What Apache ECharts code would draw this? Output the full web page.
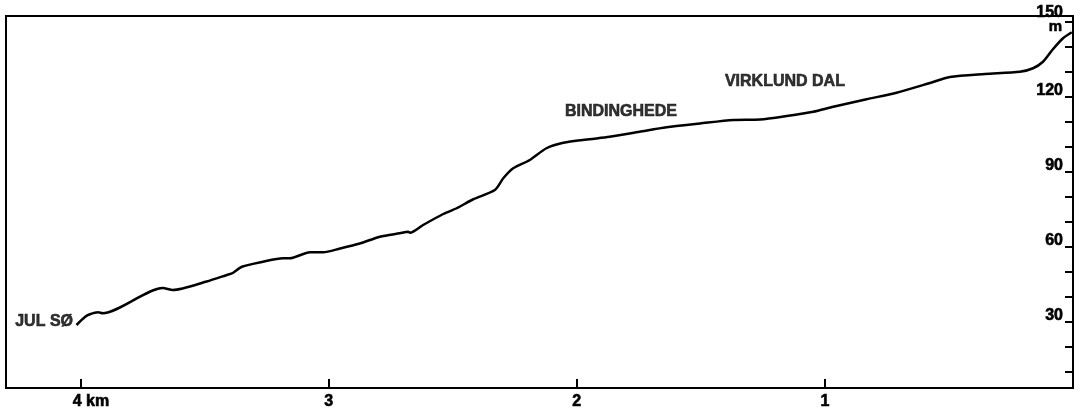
<!DOCTYPE html>
<html>
<head>
<meta charset="utf-8">
<script src="https://cdn.jsdelivr.net/npm/echarts@6/dist/echarts.min.js"></script>
<style>
  html, body { margin: 0; padding: 0; background: #fff; }
  #chart { width: 1084px; height: 412px; }
</style>
</head>
<body>
<div id="chart"></div>
<script>
// Distance from Virklund Dal end (km) and elevation (m), read from the profile
const distanceKm = [4.016, 3.982, 3.962, 3.929, 3.910, 3.668, 3.628, 3.491, 3.410, 3.386, 3.349, 3.265, 3.184, 3.156, 3.075, 3.022, 2.954, 2.874, 2.793, 2.713, 2.679, 2.672, 2.619, 2.538, 2.484, 2.417, 2.330, 2.296, 2.256, 2.189, 2.122, 2.054, 1.948, 1.868, 1.747, 1.638, 1.503, 1.369, 1.261, 1.154, 1.047, 0.966, 0.832, 0.711, 0.576, 0.496, 0.355, 0.214, 0.161, 0.121, 0.081, 0.040, 0.005];
const elevationM = [28.8, 32.0, 33.1, 33.9, 33.5, 43.6, 42.8, 46.2, 48.8, 49.6, 52.1, 54.1, 55.5, 55.5, 57.9, 57.9, 59.4, 61.4, 64.1, 65.5, 66.1, 65.7, 68.8, 73.2, 75.5, 79.1, 82.8, 87.5, 91.5, 94.8, 99.5, 101.7, 103.1, 104.1, 106.1, 107.9, 109.4, 110.8, 111.0, 112.4, 114.1, 116.1, 119.1, 121.7, 125.6, 128.0, 129.2, 130.1, 131.5, 134.1, 139.1, 143.5, 145.9];

// Place names along the profile
const placeNames = ['JUL SØ', 'BINDINGHEDE', 'VIRKLUND DAL'];
const placeKm = [4.03, 1.822, 1.161];
const placeElev = [30.2, 114.0, 126.0];

// Axis ticks / labels
const xTickValues = [1, 2, 3, 4];
const yTickValues = [10, 20, 30, 40, 50, 60, 70, 80, 90, 100, 110, 120, 130, 140, 150];
const yTickLabels = [30, 60, 90, 120, 150];
const yRange = [3.6, 152.4];

const FONT = "'Liberation Sans', Arial, sans-serif";
const INK = '#000';
const TXT = { color: INK, fontFamily: FONT, fontWeight: 'bold', fontSize: 16, textBorderColor: INK, textBorderWidth: 0.6 };

const chart = echarts.init(document.getElementById('chart'));

const profile = distanceKm.map((d, i) => [d, elevationM[i]]);
const places = placeNames.map((n, i) => {
  const item = { name: n, value: [placeKm[i], placeElev[i]] };
  if (i === 0) item.label = { position: 'left', distance: 0 };
  return item;
});

chart.setOption({
  animation: false,
  backgroundColor: '#fff',
  grid: {
    left: 6, right: 11, top: 16, bottom: 24,
    containLabel: false,
    outerBoundsMode: 'none',
    show: true, borderColor: INK, borderWidth: 2, backgroundColor: 'transparent'
  },
  xAxis: {
    type: 'value',
    inverse: true,
    min: 0, max: 4.3, interval: 1,
    axisLine: { show: true, lineStyle: { color: INK, width: 2 } },
    axisTick: { show: true, inside: true, length: 9, customValues: xTickValues, lineStyle: { color: INK, width: 2 } },
    axisLabel: Object.assign({
      show: true, margin: 6, customValues: xTickValues,
      formatter: v => v === 4 ? '{k|4 km}' : String(v),
      rich: { k: Object.assign({}, TXT, { padding: [0, 0, 0, 21] }) }
    }, TXT),
    splitLine: { show: false }
  },
  yAxis: {
    type: 'value',
    position: 'right',
    min: yRange[0], max: yRange[1],
    name: 'm',
    nameLocation: 'end',
    nameGap: -11,
    nameMoveOverlap: false,
    nameTextStyle: Object.assign({}, TXT, { fontSize: 15, align: 'right', verticalAlign: 'middle', padding: [0, 11, 0, 0] }),
    axisLine: { show: true, lineStyle: { color: INK, width: 2 } },
    axisTick: { show: true, inside: true, length: 8, customValues: yTickValues, lineStyle: { color: INK, width: 2 } },
    axisLabel: Object.assign({
      show: true, inside: true, margin: 10, customValues: yTickLabels,
      verticalAlign: 'bottom', lineHeight: 12,
      formatter: v => v === 150 ? '{t|150}' : String(v),
      rich: { t: Object.assign({}, TXT, { lineHeight: 12, padding: [0, 0, 6, 0] }) }
    }, TXT),
    splitLine: { show: false }
  },
  series: [
    {
      type: 'line',
      data: profile,
      showSymbol: false,
      smooth: 0.25,
      lineStyle: { color: INK, width: 2.5 },
      silent: true
    },
    {
      type: 'scatter',
      data: places,
      symbolSize: 0,
      silent: true,
      label: Object.assign({
        show: true,
        formatter: p => p.name,
        position: 'inside'
      }, TXT)
    }
  ]
});
</script>
</body>
</html>
